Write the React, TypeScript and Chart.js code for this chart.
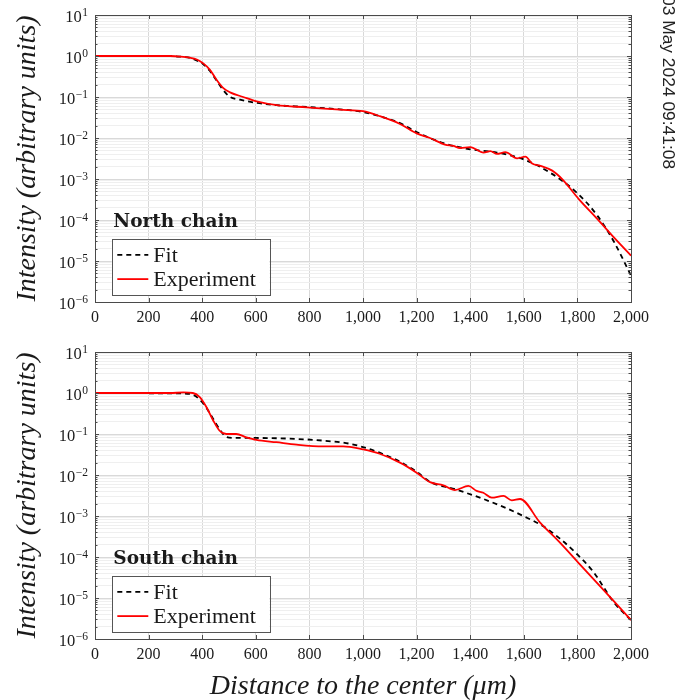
import React, { useEffect, useRef } from 'react';
import { Chart, registerables } from 'chart.js';

Chart.register(...registerables);

// ---------------- data ----------------
const xTickValues = [0, 200, 400, 600, 800, 1000, 1200, 1400, 1600, 1800, 2000];
const yDecades = [-6, -5, -4, -3, -2, -1, 0, 1];
const yMin = 1e-6;
const yMax = 10;

const northFitX = [0, 280, 320, 354, 404, 429, 454, 479, 504, 541, 603, 678, 790, 914, 1000, 1063, 1138, 1200, 1300, 1400, 1500, 1600, 1700, 1800, 1875, 1937, 2000];
const northFitY = [1, 1, 0.96, 0.9, 0.63, 0.43, 0.25, 0.145, 0.1, 0.086, 0.072, 0.063, 0.057, 0.05, 0.043, 0.034, 0.023, 0.014, 0.0075, 0.0053, 0.0044, 0.003, 0.0014, 0.00045, 0.000126, 2.9e-5, 4.4e-6];

const northExpX = [0, 100, 200, 280, 320, 354, 380, 404, 429, 454, 479, 504, 553, 603, 678, 790, 914, 1000, 1063, 1138, 1200, 1250, 1306, 1337, 1362, 1400, 1450, 1475, 1500, 1531, 1575, 1606, 1631, 1662, 1706, 1744, 1806, 1875, 1937, 2000];
const northExpY = [1, 1, 1, 1, 0.97, 0.91, 0.82, 0.66, 0.46, 0.26, 0.165, 0.13, 0.1, 0.078, 0.063, 0.056, 0.049, 0.045, 0.034, 0.022, 0.013, 0.01, 0.0069, 0.0064, 0.0057, 0.006, 0.0044, 0.0048, 0.0041, 0.0045, 0.0032, 0.0035, 0.0024, 0.0021, 0.0016, 0.00098, 0.00032, 0.000105, 3.7e-5, 1.35e-5];

const southFitX = [0, 300, 354, 404, 440, 465, 490, 527, 602, 727, 851, 950, 1000, 1062, 1138, 1200, 1250, 1343, 1436, 1530, 1598, 1673, 1735, 1797, 1860, 1935, 2000];
const southFitY = [1, 0.98, 0.95, 0.56, 0.24, 0.13, 0.085, 0.08, 0.08, 0.077, 0.069, 0.058, 0.048, 0.035, 0.021, 0.012, 0.0068, 0.0045, 0.0028, 0.0016, 0.001, 0.00056, 0.00028, 0.00012, 4.3e-5, 8e-6, 2.9e-6];

const southExpX = [0, 100, 200, 280, 330, 365, 390, 415, 440, 465, 490, 527, 565, 602, 677, 752, 851, 926, 1000, 1062, 1138, 1200, 1250, 1300, 1343, 1393, 1424, 1449, 1480, 1524, 1555, 1586, 1660, 1735, 1810, 1935, 2000];
const southExpY = [1, 1, 1, 1, 1.03, 1.0, 0.8, 0.46, 0.22, 0.12, 0.1, 0.1, 0.083, 0.072, 0.063, 0.055, 0.05, 0.05, 0.042, 0.033, 0.02, 0.0114, 0.0067, 0.0056, 0.0043, 0.0054, 0.0041, 0.0037, 0.0028, 0.0031, 0.0024, 0.0026, 0.0007, 0.000224, 6.5e-5, 8.5e-6, 2.9e-6];

const seriesLabels = ['Fit', 'Experiment'];
const xAxisTitle = 'Distance to the center (\u03BCm)';
const yAxisTitle = 'Intensity (arbitrary units)';
const stampText = '03 May 2024 09:41:08';

// ---------------- styling ----------------
const SERIF = '"Liberation Serif", "DejaVu Serif", serif';
const BOLD_SERIF = '"DejaVu Serif", "Liberation Serif", serif';
const TEXT = '#1a1a1a';
const FRAME = '#4a4a4a';
const GRID_MAJOR = '#d9d9d9';
const GRID_MINOR = '#efefef';
const RED = '#ff0000';

const isMajor = (v: number) => {
  const e = Math.log10(v);
  return Math.abs(e - Math.round(e)) < 1e-6;
};

const toPoints = (xs: number[], ys: number[]) => xs.map((x, i) => ({ x, y: ys[i] }));

const frameLegendPlugin = {
  id: 'frameLegend',
  afterDatasetsDraw(chart: any, _args: any, opts: any) {
    const { ctx, chartArea: a } = chart;
    const ys = chart.scales.y;
    const xs = chart.scales.x;
    ctx.save();
    ctx.strokeStyle = FRAME;
    ctx.lineWidth = 1;
    ctx.beginPath();
    ys.ticks.forEach((t: any) => {
      const py = Math.round(ys.getPixelForValue(t.value)) + 0.5;
      const len = isMajor(t.value) ? 4 : 2.5;
      ctx.moveTo(a.left, py);
      ctx.lineTo(a.left + len, py);
      ctx.moveTo(a.right, py);
      ctx.lineTo(a.right - len, py);
    });
    xs.ticks.forEach((t: any) => {
      const px = Math.round(xs.getPixelForValue(t.value)) + 0.5;
      ctx.moveTo(px, a.bottom);
      ctx.lineTo(px, a.bottom - 4);
      ctx.moveTo(px, a.top);
      ctx.lineTo(px, a.top + 4);
    });
    ctx.stroke();
    ctx.strokeRect(Math.round(a.left) + 0.5, Math.round(a.top) + 0.5, Math.round(a.right - a.left), Math.round(a.bottom - a.top));

    // y tick labels: 10 with raised exponent
    ctx.fillStyle = TEXT;
    ctx.textAlign = 'left';
    ctx.textBaseline = 'alphabetic';
    yDecades.forEach((e) => {
      const py = ys.getPixelForValue(Math.pow(10, e));
      const expText = e < 0 ? '\u2212' + String(-e) : String(e);
      ctx.font = '16.5px ' + SERIF;
      const wBase = ctx.measureText('10').width;
      ctx.font = '11.5px ' + SERIF;
      const wExp = ctx.measureText(expText).width;
      const right = a.left - 7;
      const x0 = right - wBase - wExp - 0.5;
      ctx.font = '16.5px ' + SERIF;
      ctx.fillText('10', x0, py + 7.3);
      ctx.font = '11.5px ' + SERIF;
      ctx.fillText(expText, x0 + wBase + 0.5, py + 0.8);
    });

    // legend box
    const bw = 157.6;
    const bh = 56.4;
    const bx = a.left + 16.7;
    const by = a.bottom - 6.5 - bh;
    ctx.fillStyle = '#ffffff';
    ctx.fillRect(bx, by, bw, bh);
    ctx.strokeStyle = '#555555';
    ctx.strokeRect(Math.round(bx) + 0.5, Math.round(by) + 0.5, Math.round(bw), Math.round(bh));

    // title above legend
    ctx.fillStyle = TEXT;
    ctx.font = 'bold 18.5px ' + BOLD_SERIF;
    ctx.textBaseline = 'middle';
    ctx.textAlign = 'left';
    ctx.fillText(opts.title, bx + 1.6, by - 16.6);

    // entries
    const rows = [
      { label: seriesLabels[0], color: '#000000', dash: [5, 4], y: by + 15.7 },
      { label: seriesLabels[1], color: RED, dash: [], y: by + 40 },
    ];
    ctx.font = '22px ' + SERIF;
    rows.forEach((r) => {
      ctx.save();
      ctx.strokeStyle = r.color;
      ctx.lineWidth = 1.8;
      ctx.setLineDash(r.dash);
      ctx.beginPath();
      ctx.moveTo(bx + 5.6, r.y);
      ctx.lineTo(bx + 36.6, r.y);
      ctx.stroke();
      ctx.restore();
      ctx.fillStyle = TEXT;
      ctx.fillText(r.label, bx + 41.6, r.y + 1);
    });
    ctx.restore();
  },
};

function buildConfig(p: {
  title: string;
  fitX: number[]; fitY: number[];
  expX: number[]; expY: number[];
  top: number; xAxisHeight: number; showXTitle: boolean;
}) {
  return {
    type: 'line',
    data: {
      datasets: [
        {
          label: seriesLabels[0],
          data: toPoints(p.fitX, p.fitY),
          borderColor: '#000000',
          borderWidth: 1.8,
          borderDash: [5, 4],
          pointRadius: 0,
          cubicInterpolationMode: 'monotone',
          order: 1,
        },
        {
          label: seriesLabels[1],
          data: toPoints(p.expX, p.expY),
          borderColor: RED,
          borderWidth: 1.8,
          pointRadius: 0,
          cubicInterpolationMode: 'monotone',
          order: 0,
        },
      ],
    },
    options: {
      animation: false,
      responsive: false,
      devicePixelRatio: 1,
      layout: { padding: { top: p.top, right: 47, left: 0, bottom: 0 } },
      plugins: {
        legend: { display: false },
        tooltip: { enabled: false },
        frameLegend: { title: p.title },
      },
      scales: {
        x: {
          type: 'linear',
          min: 0,
          max: 2000,
          afterBuildTicks: (scale: any) => {
            scale.ticks = xTickValues.map((v) => ({ value: v }));
          },
          afterFit: (scale: any) => {
            scale.height = p.xAxisHeight;
          },
          grid: { color: GRID_MAJOR, lineWidth: 1, drawTicks: false },
          border: { display: false },
          ticks: {
            autoSkip: false,
            maxRotation: 0,
            padding: 6,
            color: TEXT,
            font: { family: SERIF, size: 16 },
            callback: (v: any) => Number(v).toLocaleString('en-US'),
          },
          title: {
            display: p.showXTitle,
            text: xAxisTitle,
            color: TEXT,
            font: { family: SERIF, size: 28, style: 'italic' },
            padding: { top: 2, bottom: 0 },
          },
        },
        y: {
          type: 'logarithmic',
          min: yMin,
          max: yMax,
          afterBuildTicks: (scale: any) => {
            const t: any[] = [];
            for (let e = -6; e <= 0; e++) {
              for (let m = 1; m <= 9; m++) t.push({ value: m * Math.pow(10, e) });
            }
            t.push({ value: 10 });
            scale.ticks = t;
          },
          afterFit: (scale: any) => {
            scale.width = 95;
          },
          grid: {
            drawTicks: false,
            lineWidth: 1,
            color: (c: any) => (c.tick && isMajor(c.tick.value) ? GRID_MAJOR : GRID_MINOR),
          },
          border: { display: false },
          ticks: { display: false, autoSkip: false },
          title: {
            display: true,
            text: yAxisTitle,
            color: TEXT,
            font: { family: SERIF, size: 28, style: 'italic' },
            padding: { top: 11, bottom: 0 },
          },
        },
      },
    },
    plugins: [frameLegendPlugin],
  } as any;
}

function ChartCanvas(props: { cfg: any; top: number; height: number }) {
  const ref = useRef<HTMLCanvasElement | null>(null);
  useEffect(() => {
    if (!ref.current) return;
    const chart = new Chart(ref.current, props.cfg);
    return () => chart.destroy();
  }, []);
  return (
    <canvas
      ref={ref}
      width={678}
      height={props.height}
      style={{ position: 'absolute', left: 0, top: props.top, width: 678, height: props.height }}
    />
  );
}

export default function App() {
  const northCfg = buildConfig({
    title: 'North chain',
    fitX: northFitX, fitY: northFitY, expX: northExpX, expY: northExpY,
    top: 15, xAxisHeight: 33, showXTitle: false,
  });
  const southCfg = buildConfig({
    title: 'South chain',
    fitX: southFitX, fitY: southFitY, expX: southExpX, expY: southExpY,
    top: 17, xAxisHeight: 64, showXTitle: true,
  });
  return (
    <div style={{ position: 'absolute', left: 0, top: 0, width: 678, height: 700, background: '#ffffff', overflow: 'hidden' }}>
      <ChartCanvas cfg={northCfg} top={0} height={335} />
      <ChartCanvas cfg={southCfg} top={335} height={368} />
      <div
        style={{
          position: 'absolute',
          left: 679,
          top: -4,
          transformOrigin: 'top left',
          transform: 'rotate(90deg)',
          fontFamily: '"Liberation Sans", Arial, sans-serif',
          fontSize: 17.4,
          lineHeight: '20px',
          whiteSpace: 'nowrap',
          color: '#222222',
        }}
      >
        {stampText}
      </div>
    </div>
  );
}
